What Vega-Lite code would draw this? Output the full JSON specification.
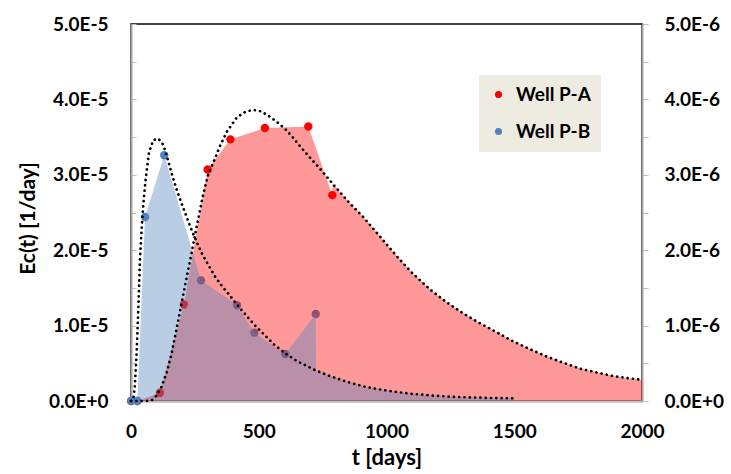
{
  "$schema": "https://vega.github.io/schema/vega-lite/v6.json",
  "width": 511,
  "height": 377,
  "autosize": {"type": "none"},
  "padding": {"left": 131, "top": 24, "right": 89, "bottom": 73},
  "background": "#FFFFFF",
  "config": {
    "view": {"stroke": "#000000", "strokeWidth": 1.5},
    "font": "Lato",
    "axis": {
      "grid": false,
      "labelFont": "Lato",
      "labelFontWeight": "bold",
      "labelFontSize": 19,
      "labelColor": "#000000",
      "titleFont": "Lato",
      "titleFontWeight": "bold",
      "titleFontSize": 21,
      "titleColor": "#000000",
      "labelOverlap": false,
      "labelFlush": false
    }
  },
  "datasets": {
    "pa_obs": [
      {"t": 0, "ec": 0, "well": "Well P-A"},
      {"t": 25, "ec": 0, "well": "Well P-A"},
      {"t": 113, "ec": 1.1e-6, "well": "Well P-A"},
      {"t": 207, "ec": 1.28e-5, "well": "Well P-A"},
      {"t": 300, "ec": 3.07e-5, "well": "Well P-A"},
      {"t": 389, "ec": 3.47e-5, "well": "Well P-A"},
      {"t": 524, "ec": 3.62e-5, "well": "Well P-A"},
      {"t": 694, "ec": 3.64e-5, "well": "Well P-A"},
      {"t": 788, "ec": 2.73e-5, "well": "Well P-A"}
    ],
    "pb_obs": [
      {"t": 0, "ec": 0, "well": "Well P-B"},
      {"t": 25, "ec": 0, "well": "Well P-B"},
      {"t": 55, "ec": 2.44e-6, "well": "Well P-B"},
      {"t": 130, "ec": 3.26e-6, "well": "Well P-B"},
      {"t": 274, "ec": 1.60e-6, "well": "Well P-B"},
      {"t": 415, "ec": 1.27e-6, "well": "Well P-B"},
      {"t": 483, "ec": 0.906e-6, "well": "Well P-B"},
      {"t": 604, "ec": 0.623e-6, "well": "Well P-B"},
      {"t": 723, "ec": 1.154e-6, "well": "Well P-B"}
    ],
    "pa_fill": [
      {"t": 0, "ec": 0}, {"t": 25, "ec": 0}, {"t": 113, "ec": 1.1e-6},
      {"t": 207, "ec": 1.28e-5}, {"t": 300, "ec": 3.07e-5}, {"t": 389, "ec": 3.47e-5},
      {"t": 524, "ec": 3.62e-5}, {"t": 694, "ec": 3.64e-5}, {"t": 788, "ec": 2.73e-5},
      {"t": 789, "ec": 2.88e-5}, {"t": 857, "ec": 2.62e-5}, {"t": 909, "ec": 2.44e-5},
      {"t": 947, "ec": 2.29e-5}, {"t": 990, "ec": 2.12e-5}, {"t": 1040, "ec": 1.92e-5},
      {"t": 1100, "ec": 1.70e-5}, {"t": 1170, "ec": 1.48e-5}, {"t": 1235, "ec": 1.31e-5},
      {"t": 1301, "ec": 1.16e-5}, {"t": 1366, "ec": 1.03e-5}, {"t": 1405, "ec": 0.96e-5},
      {"t": 1496, "ec": 0.79e-5}, {"t": 1560, "ec": 0.69e-5}, {"t": 1627, "ec": 0.59e-5},
      {"t": 1690, "ec": 0.51e-5}, {"t": 1757, "ec": 0.43e-5}, {"t": 1820, "ec": 0.38e-5},
      {"t": 1888, "ec": 0.33e-5}, {"t": 1950, "ec": 0.30e-5}, {"t": 2000, "ec": 0.28e-5}
    ],
    "pb_fill": [
      {"t": 0, "ec": 0}, {"t": 25, "ec": 0}, {"t": 55, "ec": 2.44e-6},
      {"t": 130, "ec": 3.26e-6}, {"t": 274, "ec": 1.60e-6}, {"t": 415, "ec": 1.27e-6},
      {"t": 483, "ec": 0.906e-6}, {"t": 604, "ec": 0.623e-6}, {"t": 723, "ec": 1.154e-6},
      {"t": 724, "ec": 0.41e-6}, {"t": 779, "ec": 0.33e-6}, {"t": 850, "ec": 0.25e-6},
      {"t": 909, "ec": 0.195e-6}, {"t": 970, "ec": 0.155e-6}, {"t": 1040, "ec": 0.12e-6},
      {"t": 1100, "ec": 0.095e-6}, {"t": 1170, "ec": 0.075e-6}, {"t": 1235, "ec": 0.06e-6},
      {"t": 1301, "ec": 0.05e-6}, {"t": 1405, "ec": 0.04e-6}, {"t": 1500, "ec": 0.035e-6}
    ],
    "pa_fit": [
      {"t": 0, "ec": 0}, {"t": 60, "ec": 0}, {"t": 81, "ec": 0.01e-5}, {"t": 100, "ec": 0.07e-5},
      {"t": 120, "ec": 0.19e-5}, {"t": 140, "ec": 0.38e-5}, {"t": 159, "ec": 0.63e-5},
      {"t": 185, "ec": 1.07e-5}, {"t": 211, "ec": 1.52e-5}, {"t": 237, "ec": 1.96e-5},
      {"t": 257, "ec": 2.31e-5}, {"t": 280, "ec": 2.70e-5}, {"t": 300, "ec": 2.98e-5},
      {"t": 329, "ec": 3.22e-5}, {"t": 348, "ec": 3.38e-5}, {"t": 375, "ec": 3.57e-5},
      {"t": 414, "ec": 3.76e-5}, {"t": 450, "ec": 3.84e-5}, {"t": 479, "ec": 3.86e-5},
      {"t": 510, "ec": 3.84e-5}, {"t": 544, "ec": 3.77e-5}, {"t": 575, "ec": 3.69e-5},
      {"t": 609, "ec": 3.59e-5}, {"t": 640, "ec": 3.47e-5}, {"t": 674, "ec": 3.33e-5},
      {"t": 708, "ec": 3.20e-5}, {"t": 740, "ec": 3.08e-5}, {"t": 792, "ec": 2.87e-5},
      {"t": 857, "ec": 2.62e-5}, {"t": 909, "ec": 2.44e-5}, {"t": 947, "ec": 2.29e-5},
      {"t": 990, "ec": 2.12e-5}, {"t": 1040, "ec": 1.92e-5}, {"t": 1100, "ec": 1.70e-5},
      {"t": 1170, "ec": 1.48e-5}, {"t": 1235, "ec": 1.31e-5}, {"t": 1301, "ec": 1.16e-5},
      {"t": 1366, "ec": 1.03e-5}, {"t": 1405, "ec": 0.96e-5}, {"t": 1496, "ec": 0.79e-5},
      {"t": 1560, "ec": 0.69e-5}, {"t": 1627, "ec": 0.59e-5}, {"t": 1690, "ec": 0.51e-5},
      {"t": 1757, "ec": 0.43e-5}, {"t": 1820, "ec": 0.38e-5}, {"t": 1888, "ec": 0.33e-5},
      {"t": 1950, "ec": 0.30e-5}, {"t": 2000, "ec": 0.28e-5}
    ],
    "pb_fit": [
      {"t": 0, "ec": 0}, {"t": 9, "ec": 0.02e-6}, {"t": 15, "ec": 0.2e-6}, {"t": 22, "ec": 0.64e-6},
      {"t": 29, "ec": 1.25e-6}, {"t": 35, "ec": 1.87e-6}, {"t": 42, "ec": 2.3e-6},
      {"t": 48, "ec": 2.6e-6}, {"t": 57, "ec": 2.93e-6}, {"t": 70, "ec": 3.29e-6},
      {"t": 87, "ec": 3.46e-6}, {"t": 107, "ec": 3.48e-6}, {"t": 126, "ec": 3.40e-6},
      {"t": 140, "ec": 3.25e-6}, {"t": 159, "ec": 3.02e-6}, {"t": 178, "ec": 2.81e-6},
      {"t": 198, "ec": 2.62e-6}, {"t": 218, "ec": 2.44e-6}, {"t": 237, "ec": 2.27e-6},
      {"t": 257, "ec": 2.11e-6}, {"t": 277, "ec": 1.96e-6}, {"t": 300, "ec": 1.82e-6},
      {"t": 329, "ec": 1.65e-6}, {"t": 357, "ec": 1.52e-6}, {"t": 387, "ec": 1.40e-6},
      {"t": 407, "ec": 1.31e-6}, {"t": 450, "ec": 1.14e-6}, {"t": 483, "ec": 1.01e-6},
      {"t": 518, "ec": 0.89e-6}, {"t": 560, "ec": 0.75e-6}, {"t": 604, "ec": 0.63e-6},
      {"t": 649, "ec": 0.53e-6}, {"t": 685, "ec": 0.47e-6}, {"t": 720, "ec": 0.41e-6},
      {"t": 779, "ec": 0.33e-6}, {"t": 850, "ec": 0.25e-6}, {"t": 909, "ec": 0.195e-6},
      {"t": 970, "ec": 0.155e-6}, {"t": 1040, "ec": 0.12e-6}, {"t": 1100, "ec": 0.095e-6},
      {"t": 1170, "ec": 0.075e-6}, {"t": 1235, "ec": 0.06e-6}, {"t": 1301, "ec": 0.05e-6},
      {"t": 1405, "ec": 0.04e-6}, {"t": 1500, "ec": 0.035e-6}
    ]
  },
  "encoding": {
    "x": {
      "field": "t",
      "type": "quantitative",
      "scale": {"domain": [0, 2000], "nice": false, "zero": false},
      "axis": {
        "values": [0, 500, 1000, 1500, 2000],
        "format": "d",
        "ticks": false,
        "tickSize": 0,
        "labelPadding": 21,
        "labelBaseline": "top",
        "labelFlush": false,
        "domainColor": "#BFBFBF",
        "domainWidth": 2.5,
        "title": "t [days]",
        "titleFontSize": 22,
        "titlePadding": 6
      }
    }
  },
  "layer": [
    {
      "data": {"name": "pa_obs"},
      "mark": {"type": "circle", "size": 70, "opacity": 1},
      "encoding": {
        "y": {
          "field": "ec",
          "type": "quantitative",
          "scale": {"domain": [0, 5e-5], "nice": false},
          "axis": {
            "orient": "left",
            "values": [0, 0.5e-5, 1e-5, 1.5e-5, 2e-5, 2.5e-5, 3e-5, 3.5e-5, 4e-5, 4.5e-5, 5e-5],
            "labelExpr": "datum.value == 0 ? '0.0E+0' : (round(datum.value * 2e5) % 2 == 1 ? '' : format(datum.value * 1e5, '.1f') + 'E-5')",
            "tickSize": -5,
            "tickColor": "#BFBFBF",
            "tickWidth": 1,
            "labelPadding": 28,
            "domainColor": "#A6A6A6",
            "domainWidth": 2,
            "title": "Ec(t) [1/day]",
            "titleAngle": 270,
            "titleAlign": "center",
            "titleBaseline": "middle",
            "titleX": -103,
            "titleY": 194
          }
        },
        "color": {
          "field": "well",
          "type": "nominal",
          "scale": {"domain": ["Well P-A", "Well P-B"], "range": ["#FF0000", "#4F81BD"]},
          "legend": {
            "orient": "none",
            "legendX": 348,
            "legendY": 51,
            "title": null,
            "fillColor": "#EEECE1",
            "padding": 10,
            "rowPadding": 17,
            "symbolSize": 50,
            "symbolType": "circle",
            "symbolOffset": 0,
            "symbolOpacity": 1,
            "symbolStrokeWidth": 0,
            "labelOffset": 8,
            "labelFont": "Lato",
            "labelFontSize": 19,
            "labelFontWeight": "bold",
            "labelColor": "#000000"
          }
        }
      }
    },
    {
      "data": {"name": "pb_obs"},
      "mark": {"type": "circle", "size": 70, "opacity": 1},
      "encoding": {
        "y": {
          "field": "ec",
          "type": "quantitative",
          "scale": {"domain": [0, 5e-6], "nice": false},
          "axis": {
            "orient": "right",
            "values": [0, 0.5e-6, 1e-6, 1.5e-6, 2e-6, 2.5e-6, 3e-6, 3.5e-6, 4e-6, 4.5e-6, 5e-6],
            "labelExpr": "datum.value == 0 ? '0.0E+0' : (round(datum.value * 2e6) % 2 == 1 ? '' : format(datum.value * 1e6, '.1f') + 'E-6')",
            "tickSize": 6,
            "tickColor": "#BFBFBF",
            "tickWidth": 1,
            "labelPadding": 16,
            "domainColor": "#A6A6A6",
            "domainWidth": 2,
            "title": null
          }
        },
        "color": {
          "field": "well",
          "type": "nominal",
          "scale": {"domain": ["Well P-A", "Well P-B"], "range": ["#FF0000", "#4F81BD"]},
          "legend": {
            "orient": "none",
            "legendX": 348,
            "legendY": 51,
            "title": null,
            "fillColor": "#EEECE1",
            "padding": 10,
            "rowPadding": 17,
            "symbolSize": 50,
            "symbolType": "circle",
            "symbolOffset": 0,
            "symbolOpacity": 1,
            "symbolStrokeWidth": 0,
            "labelOffset": 8,
            "labelFont": "Lato",
            "labelFontSize": 19,
            "labelFontWeight": "bold",
            "labelColor": "#000000"
          }
        }
      }
    },
    {
      "data": {"name": "pa_fill"},
      "mark": {"type": "area", "color": "#FF0000", "opacity": 0.4},
      "encoding": {
        "y": {"field": "ec", "type": "quantitative", "scale": {"domain": [0, 5e-5], "nice": false}, "axis": null}
      }
    },
    {
      "data": {"name": "pb_fill"},
      "mark": {"type": "area", "color": "#4F81BD", "opacity": 0.4},
      "encoding": {
        "y": {"field": "ec", "type": "quantitative", "scale": {"domain": [0, 5e-6], "nice": false}, "axis": null}
      }
    },
    {
      "data": {"name": "pa_fit"},
      "mark": {"type": "line", "color": "#000000", "strokeWidth": 2.7, "strokeDash": [0.1, 5.2], "strokeCap": "round"},
      "encoding": {
        "y": {"field": "ec", "type": "quantitative", "scale": {"domain": [0, 5e-5], "nice": false}, "axis": null}
      }
    },
    {
      "data": {"name": "pb_fit"},
      "mark": {"type": "line", "color": "#000000", "strokeWidth": 2.7, "strokeDash": [0.1, 5.2], "strokeCap": "round"},
      "encoding": {
        "y": {"field": "ec", "type": "quantitative", "scale": {"domain": [0, 5e-6], "nice": false}, "axis": null}
      }
    }
  ],
  "resolve": {"scale": {"y": "independent"}}
}
